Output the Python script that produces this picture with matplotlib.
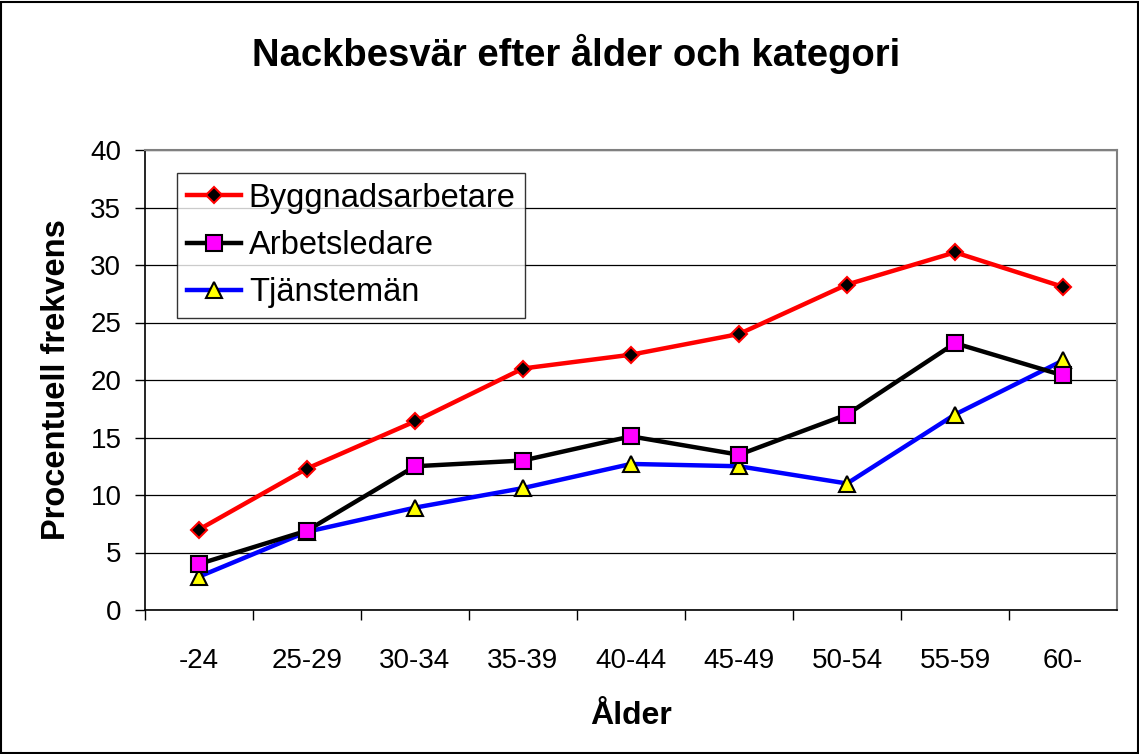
import matplotlib
matplotlib.use("Agg")
import matplotlib.pyplot as plt
from matplotlib.patches import Rectangle

plt.rcParams['font.family'] = ['Liberation Sans', 'DejaVu Sans']

categories = ["-24", "25-29", "30-34", "35-39", "40-44", "45-49", "50-54", "55-59", "60-"]
byggnad = [7.0, 12.3, 16.4, 21.0, 22.2, 24.0, 28.3, 31.1, 28.1]
arbets = [4.0, 6.9, 12.5, 13.0, 15.1, 13.5, 17.0, 23.2, 20.4]
tjanst = [2.9, 6.8, 8.9, 10.6, 12.7, 12.5, 11.0, 17.0, 21.7]

W, H = 1139, 754
fig = plt.figure(figsize=(W / 100, H / 100), dpi=100)
fig.patch.set_facecolor("white")
fig.patches.append(Rectangle((1 / W, 1 / H), 1 - 2.5 / W, 1 - 2.5 / H, transform=fig.transFigure,
                             fill=False, edgecolor="black", linewidth=1.5))

ax = fig.add_axes([145 / W, (H - 610) / H, (1117 - 145) / W, (610 - 150) / H])
x = list(range(len(categories)))

ax.plot(x, byggnad, color="#ff0000", linewidth=3.2, marker="D", markersize=8,
        markerfacecolor="black", markeredgecolor="#ff0000", markeredgewidth=1.5,
        label="Byggnadsarbetare", zorder=3)
ax.plot(x, arbets, color="black", linewidth=3.2, marker="s", markersize=12,
        markerfacecolor="#ff00ff", markeredgecolor="black", markeredgewidth=1.5,
        label="Arbetsledare", zorder=4)
ax.plot(x, tjanst, color="#0000ff", linewidth=3.2, marker="^", markersize=11,
        markerfacecolor="#ffff00", markeredgecolor="black", markeredgewidth=1.5,
        label="Tjänstemän", zorder=3.5)

ax.set_xlim(-0.5, len(categories) - 0.5)
ax.set_ylim(0, 40)
ax.set_yticks(range(0, 41, 5))
ax.yaxis.grid(True, color="black", linewidth=0.9)
ax.set_axisbelow(True)

ax.set_xticks(x)
ax.set_xticklabels(categories)
ax.tick_params(axis="x", length=0, labelsize=20, pad=27)
ax.set_xticks([i - 0.5 for i in range(0, len(categories))], minor=True)
ax.tick_params(axis="x", which="minor", length=7, width=1, direction="out")
ax.tick_params(axis="y", labelsize=20, length=7, width=1, direction="out", pad=10)

for s in ["top", "right"]:
    ax.spines[s].set_color("#808080")
    ax.spines[s].set_linewidth(1.5)
for s in ["left", "bottom"]:
    ax.spines[s].set_color("black")
    ax.spines[s].set_linewidth(1.2)

ax.set_xlabel("Ålder", fontsize=23, fontweight="bold", labelpad=20)
ax.set_ylabel("Procentuell frekvens", fontsize=23.5, fontweight="bold", labelpad=13)
fig.text(576 / W, 1 - 54 / H, "Nackbesvär efter ålder och kategori", fontsize=27.5,
         fontweight="bold", ha="center", va="center")

leg = ax.legend(loc="upper left", bbox_to_anchor=((177 - 145) / (1117 - 145), (610 - 173) / 460),
                borderaxespad=0, fontsize=23.5, frameon=True, fancybox=False, edgecolor="black",
                borderpad=0.3, labelspacing=0.5, handlelength=1.65, handletextpad=0.25)
leg.get_frame().set_linewidth(1.0)

fig.savefig("out.png", dpi=100, facecolor="white")
